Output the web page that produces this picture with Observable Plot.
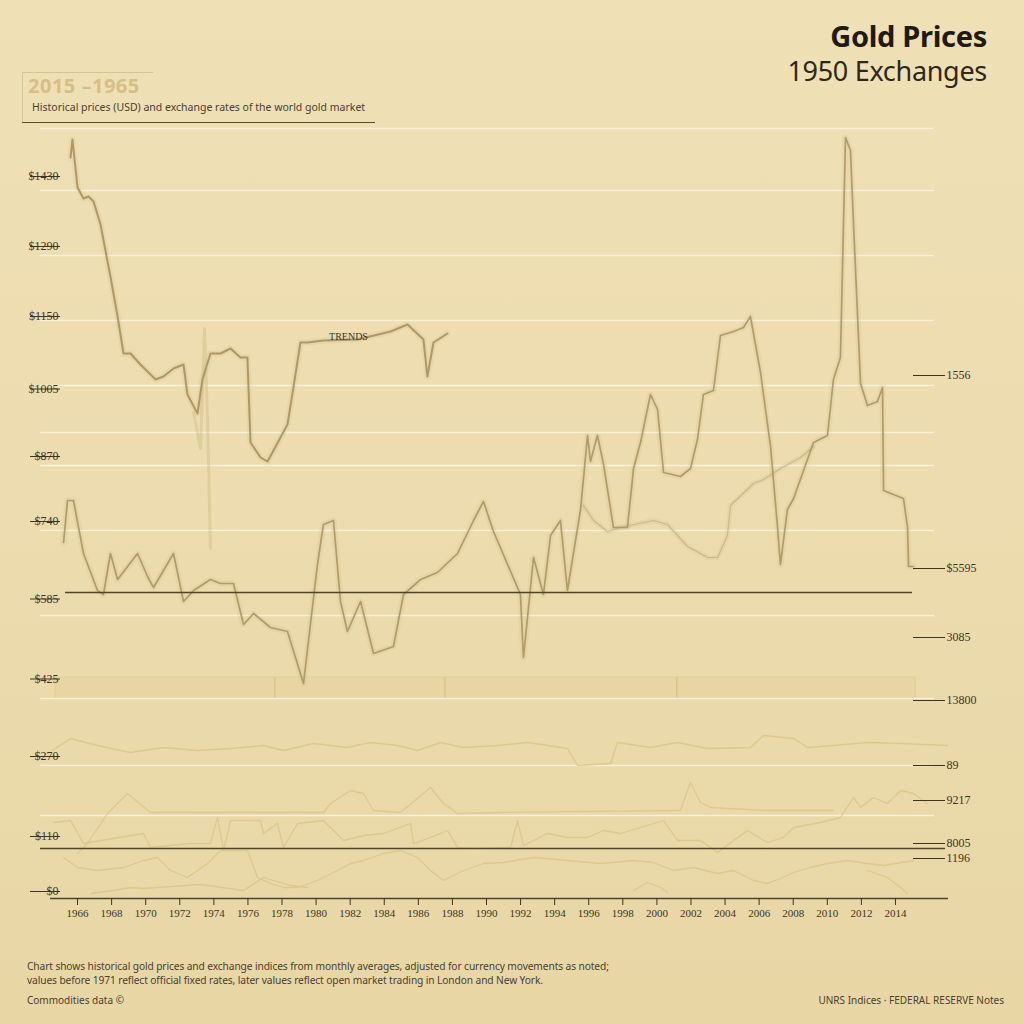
<!DOCTYPE html>
<html>
<head>
<meta charset="utf-8">
<script src="https://cdn.jsdelivr.net/npm/d3@7"></script>
<script src="https://cdn.jsdelivr.net/npm/@observablehq/plot@0.6"></script>
<style>
  html, body { margin: 0; padding: 0; }
  body { width: 1024px; height: 1024px; overflow: hidden;
    background: linear-gradient(180deg, #efe0b6 0%, #ecdbad 55%, #e8d6a5 100%);
    font-family: "Noto Sans", "Open Sans", sans-serif; color: #2a241a; }
  #wrap { position: relative; width: 1024px; height: 1024px; }
  .title { position: absolute; right: 37px; top: 16px; font-size: 29px; font-weight: 700; color: #1f1a12; letter-spacing: -0.3px; }
  .subtitle { position: absolute; right: 37px; top: 52px; font-size: 27px; color: #2e2818; letter-spacing: -0.3px; }
  .box { position: absolute; left: 22px; top: 72px; width: 130px; height: 50px; border-top: 1.5px solid #d6c38e; border-left: 1.5px solid #d6c38e; }
  .boxtitle { position: absolute; left: 28px; top: 72px; font-size: 20px; font-weight: 700; color: #d5bf86; letter-spacing: 0.5px; }
  .boxsub { position: absolute; left: 32px; top: 100px; font-size: 10.5px; color: #4a4030; white-space: nowrap; }
  .boxline { position: absolute; left: 22px; top: 122px; width: 353px; height: 0; border-top: 1.5px solid #5a4a30; }
  #chart { position: absolute; left: 0; top: 120px; }
  .foot { position: absolute; left: 27px; top: 959px; font-size: 10.2px; line-height: 14px; color: #4a4030; white-space: nowrap; letter-spacing: -0.1px; }
  .src { position: absolute; left: 27px; top: 993px; font-size: 10px; color: #4a4030; }
  .srcr { position: absolute; right: 20px; top: 993px; font-size: 10px; color: #4a4030; }
</style>
</head>
<body>
<div id="wrap">
  <div class="title">Gold Prices</div>
  <div class="subtitle">1950 Exchanges</div>
  <div class="box"></div>
  <div class="boxtitle">2015 –1965</div>
  <div class="boxsub">Historical prices (USD) and exchange rates of the world gold market</div>
  <div class="boxline"></div>
  <div id="chart"></div>
  <div class="foot">Chart shows historical gold prices and exchange indices from monthly averages, adjusted for currency movements as noted;<br>values before 1971 reflect official fixed rates, later values reflect open market trading in London and New York.</div>
  <div class="src">Commodities data ©</div>
  <div class="srcr">UNRS Indices · FEDERAL RESERVE Notes</div>
</div>
<script>
// ---- data (year, value) ----
const londonFix = [
  [1965.59,1482],[1965.70,1518],[1966.00,1422],[1966.35,1400],[1966.64,1404],[1966.94,1394],
  [1967.35,1348],[1967.76,1274],[1967.93,1244],[1968.35,1164],[1968.70,1090],[1969.11,1090],
  [1969.69,1068],[1970.58,1038],[1971.04,1044],[1971.63,1060],[1972.22,1068],[1972.45,1008],
  [1973.04,970],[1973.33,1038],[1973.80,1090],[1974.39,1090],[1974.98,1100],[1975.56,1082],
  [1975.97,1082],[1976.15,912],[1976.74,882],[1977.15,874],[1977.50,896],[1978.32,948],
  [1978.67,1022],[1979.08,1112],[1979.50,1112],[1980.43,1116],[1982.43,1118],[1984.37,1134],
  [1985.36,1148],[1986.30,1118],[1986.53,1044],[1986.89,1112],[1987.71,1130]
];
const spotPrice = [
  [1965.18,712],[1965.41,796],[1965.76,796],[1966.35,690],[1967.17,616],[1967.52,608],
  [1967.93,690],[1968.35,638],[1969.52,690],[1970.11,644],[1970.46,622],[1971.63,690],
  [1972.22,594],[1972.81,616],[1973.80,638],[1974.39,630],[1975.15,630],[1975.74,548],
  [1976.33,570],[1977.32,542],[1978.32,534],[1979.26,430],[1980.08,668],[1980.43,748],
  [1981.02,756],[1981.43,594],[1981.84,534],[1982.61,594],[1983.37,490],[1984.54,504],
  [1985.13,608],[1986.13,638],[1987.12,652],[1988.30,690],[1989.24,756],[1989.82,794],
  [1990.41,734],[1991.99,608],[1992.17,482],[1992.76,682],[1993.34,608],[1993.76,726],
  [1994.34,756],[1994.75,616],[1995.52,778],[1995.93,926],[1996.10,874],[1996.51,926],
  [1996.87,868],[1997.45,742],[1998.27,742],[1998.63,860],[1999.04,912],[1999.62,1008],
  [2000.04,978],[2000.39,852],[2001.38,844],[2001.97,860],[2002.38,918],[2002.73,1008],
  [2003.32,1016],[2003.73,1126],[2004.50,1134],[2005.08,1142],[2005.49,1164],[2006.08,1052],
  [2006.67,904],[2007.08,742],[2007.25,668],[2007.66,778],[2008.02,800],[2009.19,912],
  [2010.01,926],[2010.36,1038],[2010.77,1082],[2011.07,1522],[2011.36,1496],[2011.54,1348],
  [2011.95,1030],[2012.36,986],[2012.95,994],[2013.24,1022],[2013.30,816],[2013.88,808],
  [2014.47,800],[2014.71,742],[2014.77,664],[2015.06,664]
];
const ghostTrend = [
  [1995.69,786],[1996.28,756],[1997.10,734],[1997.86,742],[1999.80,756],[2000.62,748],
  [2001.80,704],[2002.97,682],[2003.56,682],[2004.14,726],[2004.32,786],[2005.67,830],
  [2006.26,838],[2007.25,860],[2008.43,882],[2009.19,904]
];
const ghostSpike = [
  [1972.81,972],[1973.22,900],[1973.45,1140],[1973.63,960],[1973.80,700]
];
const fxIndexA = [
  [1964.53,296],[1965.59,320],[1967.17,306],[1969.11,292],[1971.04,302],[1973.04,296],
  [1974.98,300],[1976.91,306],[1978.09,296],[1979.85,310],[1981.84,302],[1983.19,312],
  [1984.78,306],[1985.95,296],[1987.30,312],[1988.65,302],[1990.65,306],[1992.41,312],
  [1994.75,300],[1995.34,266],[1997.28,270],[1997.69,312],[1999.62,302],[2001.21,312],
  [2002.97,300],[2005.49,302],[2006.26,326],[2008.02,320],[2008.84,302],[2010.36,306],
  [2012.36,312],[2014.30,310],[2017.05,306]
];
const fxIndexB = [
  [1966.00,90],[1966.58,110],[1967.76,170],[1968.52,196],[1968.93,210],[1970.28,172],
  [1976.15,172],[1980.43,172],[1980.85,190],[1982.02,216],[1982.78,210],[1983.37,176],
  [1984.95,172],[1986.71,222],[1987.48,190],[1988.30,170],[1990.82,172],[2001.38,176],
  [2001.97,232],[2002.56,192],[2003.15,182],[2006.49,176],[2010.36,176]
];
const fxIndexC = [
  [1964.59,152],[1965.59,156],[1966.35,110],[1969.87,130],[1970.28,102],[1972.63,110],
  [1973.80,110],[1974.21,162],[1974.57,96],[1974.98,156],[1976.74,156],[1976.91,130],
  [1977.73,150],[1978.09,102],[1978.91,150],[1980.43,156],[1981.61,116],[1982.78,126],
  [1983.96,130],[1985.54,150],[1985.72,110],[1986.71,122],[1987.71,136],[1988.30,102],
  [1989.24,100],[1991.41,102],[1991.82,156],[1992.17,106],[1993.58,130],[1994.75,122],
  [1995.93,122],[1996.87,136],[1997.86,130],[1999.04,142],[2000.39,156],[2001.21,116],
  [2002.56,116],[2003.56,92],[2004.50,116],[2005.32,136],[2006.49,112],[2007.43,122],
  [2008.02,142],[2009.60,152],[2010.77,162],[2011.54,202],[2011.95,182],[2012.71,202],
  [2013.53,190],[2014.30,216],[2015.06,210],[2015.88,190]
];
const fxIndexD = [
  [1965.18,82],[1966.00,62],[1967.17,56],[1968.70,62],[1969.87,76],[1970.69,82],
  [1971.46,56],[1972.45,42],[1973.63,70],[1974.39,96],[1975.97,96],[1976.56,42],
  [1977.32,30],[1978.09,22],[1978.91,22],[1980.08,36],[1981.26,56],[1982.02,70],
  [1982.78,76],[1983.96,90],[1984.95,96],[1985.95,82],[1986.71,56],[1987.48,36],
  [1988.65,56],[1989.82,70],[1991.00,72],[1992.76,82],[1994.75,76],[1996.69,70],
  [1998.63,76],[1999.80,72],[2000.97,56],[2002.15,62],[2003.56,50],[2004.50,56],
  [2005.67,36],[2006.49,30],[2007.25,40],[2008.02,52],[2009.01,62],[2010.01,70],
  [2011.19,76],[2012.36,70],[2013.30,66],[2015.06,76]
];
const fxIndexE = [
  [1966.76,10,"a"],[1968.11,16,"a"],[1969.11,22,"a"],[1969.87,20,"a"],[1973.22,28,"a"],
  [1975.74,16,"a"],[1976.91,42,"a"],[1978.50,26,"a"],[1979.50,22,"a"],
  [1998.63,16,"b"],[1999.45,32,"b"],[2000.21,22,"b"],[2000.62,12,"b"],
  [2012.36,56,"c"],[2013.53,42,"c"],[2014.30,22,"c"],[2014.71,10,"c"]
];
const rangeBand = [{from: 1964.71, to: 2015.18, low: 400, high: 442}];
const bandMarkers = [1977.58, 1987.56, 2001.17];

const yTicks = [0, 110, 270, 425, 585, 740, 870, 1005, 1150, 1290, 1430];
const gridValues = [1540, 1416, 1286, 1156, 1026, 932, 866, 736, 566, 400, 266, 166];
const baselines = [612, 100];
const xTicks = [1966,1968,1970,1972,1974,1976,1978,1980,1982,1984,1986,1988,1990,1992,1994,1996,1998,2000,2002,2004,2006,2008,2010,2012,2014];
const rightValues = [1046, 660, 522, 396, 266, 196, 110, 80];
const rightLabels = ["1556", "$5595", "3085", "13800", "89", "9217", "8005", "1196"];
const notes = [{year: 1981.9, value: 1124, text: "TRENDS"}];

const rows = (arr) => arr.map(([year, value, seg]) => ({year, value, seg}));

const gold = "#a8915f";
const pale = "#dcc68b";

const chart = Plot.plot({
  width: 1024,
  height: 810,
  marginTop: 8,
  marginBottom: 32,
  marginLeft: 60,
  marginRight: 112,
  style: {background: "transparent", fontFamily: "'Liberation Serif', 'DejaVu Serif', serif", color: "#3d3425"},
  x: {domain: [1965, 2015]},
  y: {domain: [0, 1540]},
  marks: [
    Plot.rect(rangeBand, {x1: "from", x2: "to", y1: "low", y2: "high", fill: "#e6d19a", fillOpacity: 0.55, stroke: "#e1cb90", strokeOpacity: 0.8}),
    Plot.ruleX(bandMarkers, {y1: 400, y2: 442, stroke: "#cdb77c", strokeOpacity: 0.8}),
    Plot.ruleY(gridValues, {stroke: "#f8f0d9", strokeWidth: 1.6, insetLeft: -20, insetRight: -22}),
    // lower panel index lines
    Plot.line(rows(fxIndexA), {x: "year", y: "value", stroke: pale, strokeWidth: 1.4, strokeOpacity: 0.9}),
    Plot.line(rows(fxIndexB), {x: "year", y: "value", stroke: pale, strokeWidth: 1.3, strokeOpacity: 0.85}),
    Plot.line(rows(fxIndexC), {x: "year", y: "value", stroke: pale, strokeWidth: 1.3, strokeOpacity: 0.9}),
    Plot.line(rows(fxIndexD), {x: "year", y: "value", stroke: pale, strokeWidth: 1.3, strokeOpacity: 0.9}),
    Plot.line(rows(fxIndexE), {x: "year", y: "value", z: "seg", stroke: pale, strokeWidth: 1.3, strokeOpacity: 0.85}),
    // ghost lines
    Plot.line(rows(ghostTrend), {x: "year", y: "value", stroke: "#c2ad78", strokeWidth: 5, strokeOpacity: 0.15}),
    Plot.line(rows(ghostTrend), {x: "year", y: "value", stroke: "#b8a270", strokeWidth: 1.2, strokeOpacity: 0.55}),
    Plot.line(rows(ghostSpike), {x: "year", y: "value", stroke: "#c2ad78", strokeWidth: 3, strokeOpacity: 0.3}),
    // main lines (soft glow + line)
    Plot.line(rows(spotPrice), {x: "year", y: "value", stroke: "#c2ab74", strokeWidth: 6, strokeOpacity: 0.14}),
    Plot.line(rows(londonFix), {x: "year", y: "value", stroke: "#c2ab74", strokeWidth: 6, strokeOpacity: 0.14}),
    Plot.line(rows(spotPrice), {x: "year", y: "value", stroke: gold, strokeWidth: 1.7, strokeOpacity: 0.85}),
    Plot.line(rows(londonFix), {x: "year", y: "value", stroke: gold, strokeWidth: 2, strokeOpacity: 0.9}),
    // baselines
    Plot.ruleY(baselines.slice(0, 1), {stroke: "#4f432d", strokeWidth: 1.5, insetLeft: 5}),
    Plot.ruleY(baselines.slice(1), {stroke: "#4f432d", strokeWidth: 1.3, insetLeft: -20, insetRight: -33}),
    Plot.ruleY([0], {stroke: "#4f432d", strokeWidth: 1.5, insetLeft: -10, insetRight: -36}),
    Plot.text(notes, {x: "year", y: "value", text: "text", fontSize: 10, fill: "#3d3425", fontFamily: "'Liberation Serif', serif"}),
    // axes
    Plot.axisY({anchor: "left", ticks: yTicks, tickSize: 30, tickPadding: -28, dy: -7, label: null,
      tickFormat: d => "$" + d, fontSize: 12, stroke: "#3d3425"}),
    Plot.axisY({anchor: "right", ticks: rightValues, tickSize: 32, tickPadding: 2, label: null,
      tickFormat: d => rightLabels[rightValues.indexOf(d)], fontSize: 12, stroke: "#3d3425"}),
    Plot.axisX({ticks: xTicks, tickSize: 7, tickPadding: 4, label: null, tickFormat: d => String(d), fontSize: 11, stroke: "#3d3425"})
  ]
});
document.getElementById("chart").appendChild(chart);
</script>
</body>
</html>
